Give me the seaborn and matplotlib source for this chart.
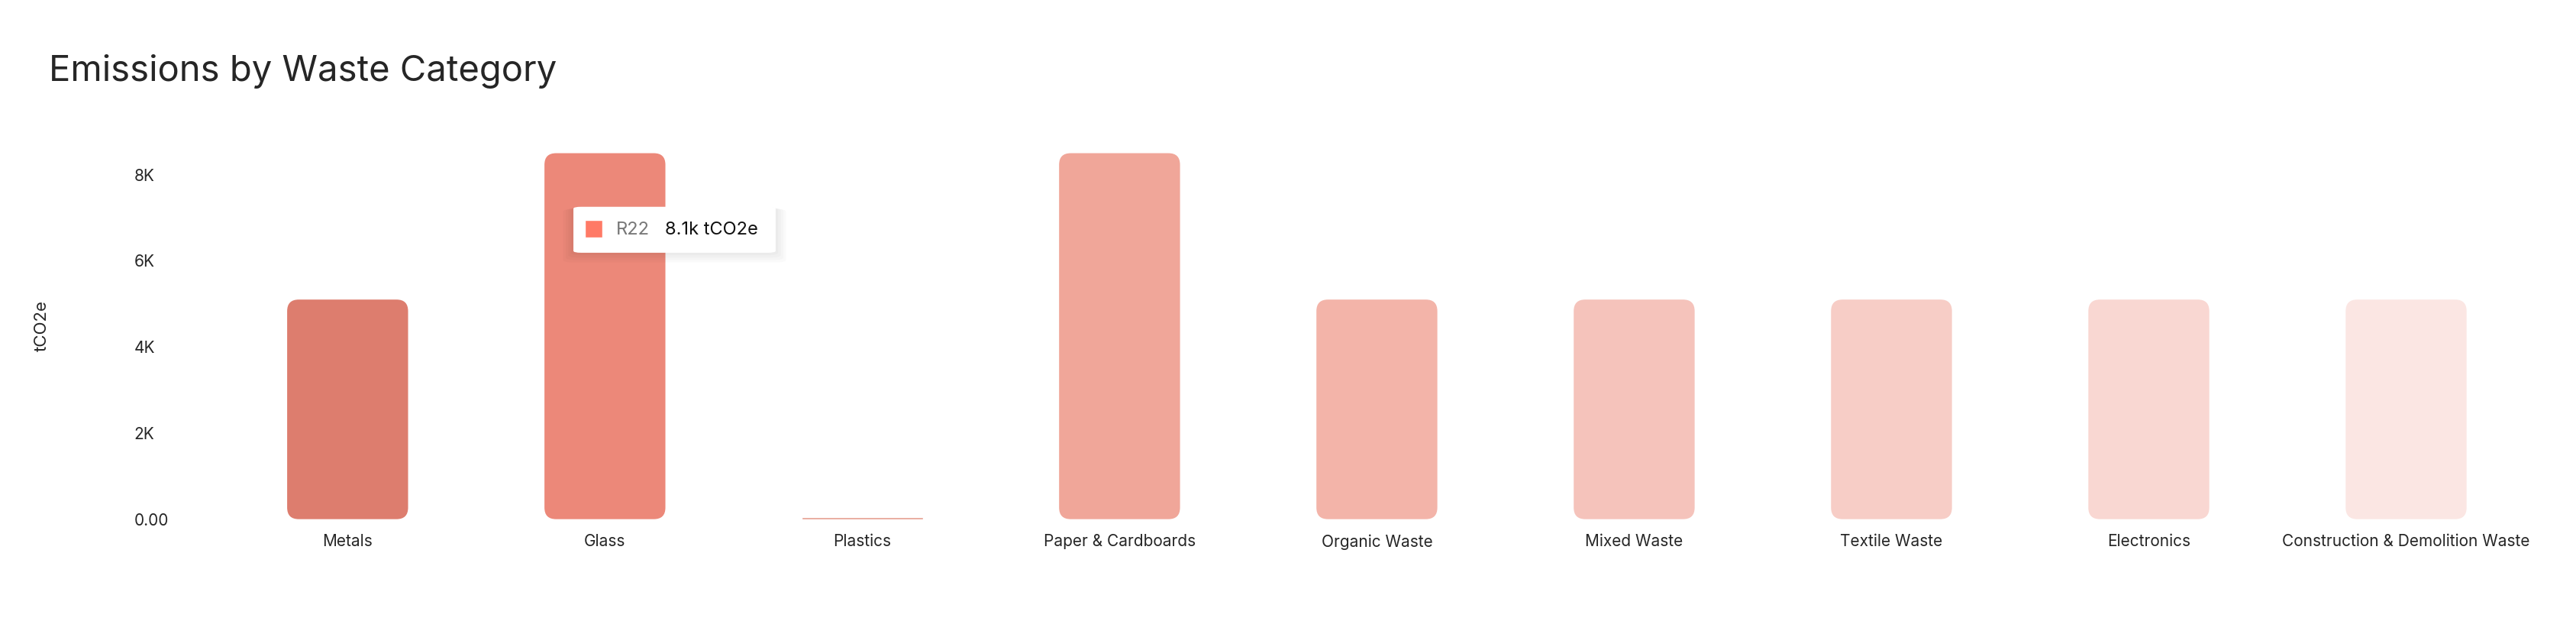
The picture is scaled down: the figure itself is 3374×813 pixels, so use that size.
import numpy as np
import pandas as pd
import matplotlib.pyplot as plt
import seaborn as sns
from matplotlib.patches import FancyBboxPatch

categories = ['Metals', 'Glass', 'Plastics', 'Paper & Cardboards', 'Organic Waste',
              'Mixed Waste', 'Textile Waste', 'Electronics', 'Construction & Demolition Waste']
emissions = [5100, 8500, 40, 8500, 5100, 5100, 5100, 5100, 5100]
colors = ['#EF6F5C', '#FF7A66', '#F4937F', '#FF9C8A', '#FFAB9D',
          '#FFBCB1', '#FFC7BE', '#FFD2CC', '#FFE3DF']
yticks = [0, 2000, 4000, 6000, 8000]
ytick_labels = ['0.00', '2K', '4K', '6K', '8K']

sns.set_style('white')
plt.rcParams['font.family'] = ['Inter', 'DejaVu Sans']

df = pd.DataFrame({'category': categories, 'value': emissions})

fig = plt.figure(figsize=(33.74, 8.13), dpi=100)
ax = fig.add_axes([0.085, 0.164, 0.899, 0.624])
sns.barplot(data=df, x='category', y='value', hue='category', palette=colors,
            width=0.47, legend=False, ax=ax)

# round the bar corners
for p in list(ax.patches):
    x, y = p.get_x(), p.get_y()
    w, h = p.get_width(), p.get_height()
    if h < 200:
        continue
    r = 0.045
    fb = FancyBboxPatch((x + r, y + r * 5965), w - 2 * r, h - 2 * r * 5965,
                        boxstyle=f'round,pad={r}', mutation_aspect=5965,
                        facecolor=p.get_facecolor(), edgecolor='none')
    p.remove()
    ax.add_patch(fb)

ax.set_ylim(0, 9000)
ax.set_xlim(-0.5, len(categories) - 0.5)
ax.set_yticks(yticks)
ax.set_yticklabels(ytick_labels, fontsize=15, ha='left')
ax.tick_params(axis='y', length=0, pad=80)
ax.tick_params(axis='x', length=0, labelsize=15, pad=14)
ax.set_xlabel('')
ax.set_ylabel('tCO2e', fontsize=16, labelpad=80)
sns.despine(ax=ax, left=True, bottom=True)

fig.text(0.019, 0.885, 'Emissions by Waste Category', fontsize=34, va='center')

# tooltip
bx, by, bw, bh = 0.2226, 0.593, 0.0785, 0.074
for i, a in enumerate([0.02, 0.02, 0.02, 0.02]):
    s = 0.003 * (i + 1)
    fig.patches.append(FancyBboxPatch((bx - s / 3, by - s * 1.3), bw + 2 * s / 3, bh + s,
                                      boxstyle='round,pad=0,rounding_size=0.004',
                                      transform=fig.transFigure, facecolor='black',
                                      alpha=a, edgecolor='none'))
fig.patches.append(FancyBboxPatch((bx, by), bw, bh, boxstyle='round,pad=0,rounding_size=0.003',
                                  transform=fig.transFigure, facecolor='white', edgecolor='none'))
fig.patches.append(plt.Rectangle((bx + 0.0045, by + 0.0245), 0.0068, 0.028,
                                 transform=fig.transFigure, facecolor='#FF7A66'))
fig.text(bx + 0.0165, by + bh / 2, 'R22', fontsize=17, color='#777777', va='center')
fig.text(bx + 0.0355, by + bh / 2, '8.1k tCO2e', fontsize=17, color='#111111', va='center')

fig.savefig('out.png', dpi=100, facecolor='white')
